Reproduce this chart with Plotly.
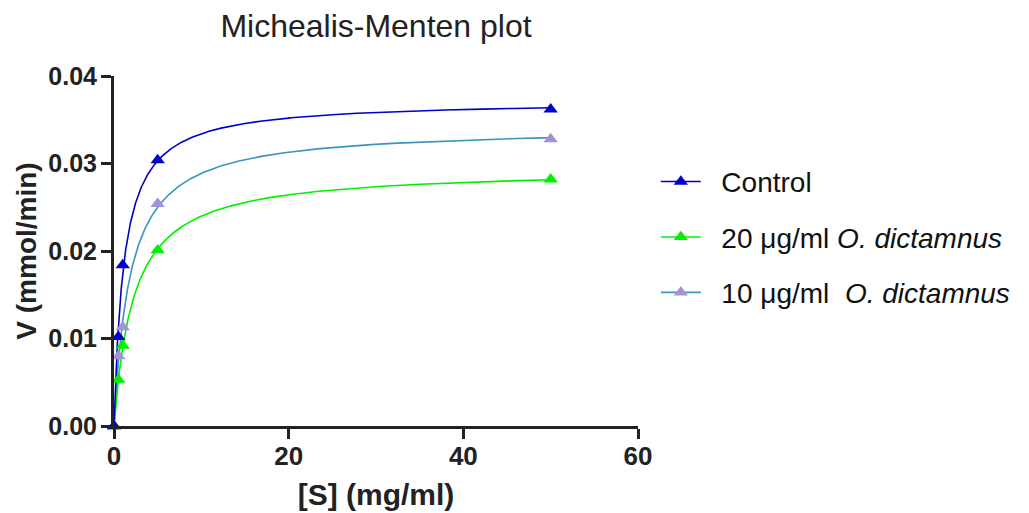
import numpy as np
import plotly.graph_objects as go

# substrate concentrations [S] (mg/ml)
s_conc = [0, 0.5, 1, 5, 50]
# measured velocities V (mmol/min)
v_control = [0.0, 0.0102, 0.0184, 0.0304, 0.0362]
v_20 = [0.0, 0.0053, 0.0092, 0.0201, 0.0282]
v_10 = [0.0, 0.0080, 0.0113, 0.0254, 0.0328]

series_names = ["Control", "20 \u03bcg/ml <i>O. dictamnus</i>", "10 \u03bcg/ml\u00a0 <i>O. dictamnus</i>"]
line_colors = ["#0000C8", "#00F000", "#3A96BA"]
marker_colors = ["#0000C8", "#00F000", "#A592D8"]

x_ticks = [0, 20, 40, 60]
y_ticks = [0.0, 0.01, 0.02, 0.03, 0.04]

FONT = "Arial, 'Liberation Sans', sans-serif"
GAP = "\u00a0\u00a0"


def mm_fit(x, y):
    """Least-squares Michaelis-Menten fit (grid over Km, closed-form Vmax)."""
    x = np.asarray(x, float)
    y = np.asarray(y, float)
    best = None
    for km in np.arange(0.05, 10, 0.001):
        f = x / (km + x)
        vmax = (y @ f) / (f @ f)
        sse = np.sum((y - vmax * f) ** 2)
        if best is None or sse < best[0]:
            best = (sse, vmax, km)
    return best[1], best[2]


fig = go.Figure()
xs = np.linspace(0, 50, 2001)
all_series = [v_control, v_20, v_10]
order = [2, 1, 0]  # draw control on top
for i in order:
    vals = all_series[i]
    vmax, km = mm_fit(s_conc, vals)
    fig.add_trace(go.Scatter(x=xs, y=vmax * xs / (km + xs), mode="lines",
                             line=dict(color=line_colors[i], width=1.6),
                             showlegend=False, hoverinfo="skip"))
for i in order:
    fig.add_trace(go.Scatter(x=s_conc, y=all_series[i], mode="markers",
                             marker=dict(symbol="triangle-up", size=12.5, color=marker_colors[i]),
                             cliponaxis=False, showlegend=False))
# legend entries
for i in range(3):
    fig.add_trace(go.Scatter(x=[None], y=[None], mode="lines+markers", name=GAP + series_names[i],
                             line=dict(color=line_colors[i], width=1.6),
                             marker=dict(symbol="triangle-up", size=12.5, color=marker_colors[i]),
                             legendgroup=f"g{i}", showlegend=True))

axis_color = "#222222"
fig.update_layout(
    width=1029, height=513,
    margin=dict(l=106, r=399, t=68, b=95),
    paper_bgcolor="white", plot_bgcolor="white",
    font=dict(family=FONT, color=axis_color),
    title=dict(text="Michealis-Menten plot", x=0.5, xref="paper", y=1 - 7 / 513,
               yref="container", xanchor="center", yanchor="top",
               pad=dict(t=0, b=0),
               font=dict(size=32, color="#222222", family=FONT)),
    legend=dict(x=1.034, y=0.769, xanchor="left", yanchor="top",
                font=dict(size=28, color="#111111", family=FONT),
                tracegroupgap=16, itemwidth=40, bgcolor="rgba(0,0,0,0)"),
    showlegend=True,
)
fig.update_xaxes(range=[0, 60], tickvals=x_ticks, ticktext=[str(t) for t in x_ticks],
                 automargin=False,
                 showline=True, linewidth=3, linecolor=axis_color, mirror=False,
                 ticks="outside", ticklen=10, tickwidth=3, tickcolor=axis_color,
                 showgrid=False, zeroline=False, ticklabelstandoff=-5,
                 tickfont=dict(size=26, family=FONT, weight="bold", color=axis_color),
                 title=dict(text="<b>[S] (mg/ml)</b>", font=dict(size=30, family=FONT, color=axis_color),
                            standoff=14))
fig.update_yaxes(range=[0, 0.04], tickvals=y_ticks, ticktext=[f"{t:.2f}" for t in y_ticks],
                 automargin=False,
                 showline=True, linewidth=3, linecolor=axis_color,
                 ticks="outside", ticklen=10, tickwidth=3, tickcolor=axis_color,
                 showgrid=False, zeroline=False, ticklabelstandoff=-1,
                 tickfont=dict(size=25, family=FONT, weight="bold", color=axis_color),
                 title=dict(text="<b>V (mmol/min)</b>", font=dict(size=28, family=FONT, color=axis_color),
                            standoff=4))

fig.write_html("out.html")
